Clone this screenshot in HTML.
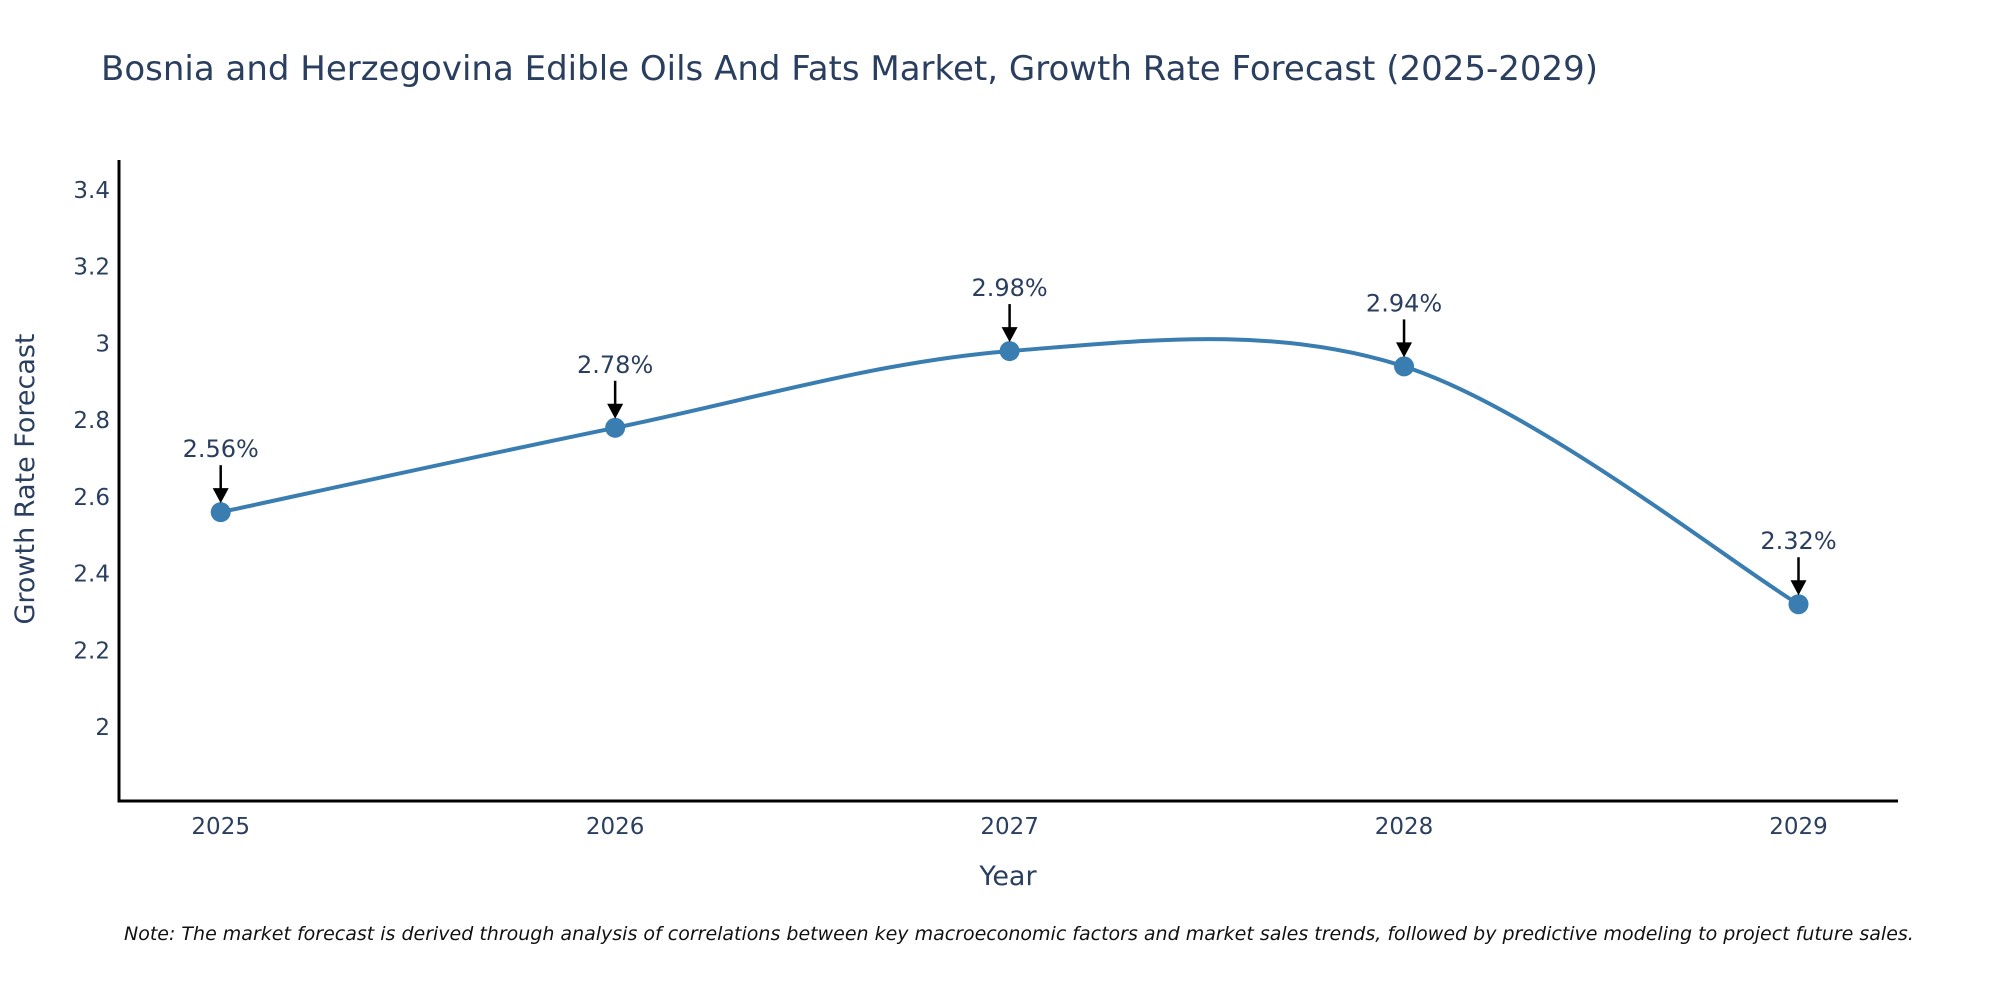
<!DOCTYPE html>
<html><head><meta charset="utf-8"><style>
body{margin:0;background:#fff;}
svg{display:block;font-family:"DejaVu Sans","Liberation Sans",sans-serif;}
</style></head><body>
<svg id="chart" width="2000" height="1000" viewBox="0 0 2000 1000">
<text x="101" y="80" font-size="34" fill="#2a3f5f">Bosnia and Herzegovina Edible Oils And Fats Market, Growth Rate Forecast (2025-2029)</text>
<g id="yticks"></g>
<g id="xticks"></g>
<line x1="119" y1="160" x2="119" y2="802" stroke="#000" stroke-width="3"/>
<line x1="117.5" y1="801" x2="1898" y2="801" stroke="#000" stroke-width="3"/>
<path id="line" fill="none" stroke="#3a7db0" stroke-width="4"/>
<g id="points"></g>
<g id="annots"></g>
<text x="1008" y="885" font-size="27" fill="#2a3f5f" text-anchor="middle">Year</text>
<text transform="translate(34,479) rotate(-90)" font-size="27" fill="#2a3f5f" text-anchor="middle">Growth Rate Forecast</text>
<text x="124" y="940" font-size="19" font-style="italic" fill="#111">Note: The market forecast is derived through analysis of correlations between key macroeconomic factors and market sales trends, followed by predictive modeling to project future sales.</text>
</svg>
<script>
const years = [2025, 2026, 2027, 2028, 2029];
const values = [2.56, 2.78, 2.98, 2.94, 2.32];
const labels = ["2.56%", "2.78%", "2.98%", "2.94%", "2.32%"];
const yTicks = [2, 2.2, 2.4, 2.6, 2.8, 3, 3.2, 3.4];
const yTickLabels = ["2", "2.2", "2.4", "2.6", "2.8", "3", "3.2", "3.4"];

const NS = "http://www.w3.org/2000/svg";
function xs(v){ return 220.7 + (v - 2025) * 394.45; }
function ys(v){ return 727 - (v - 2) * 383.6; }
function mk(tag, attrs, parent){
  const e = document.createElementNS(NS, tag);
  for (const k in attrs) e.setAttribute(k, attrs[k]);
  parent.appendChild(e);
  return e;
}
const yg = document.getElementById('yticks');
yTicks.forEach((t, i) => {
  const e = mk('text', {x: 110, y: ys(t) + 8, 'font-size': 23, fill: '#2a3f5f', 'text-anchor': 'end'}, yg);
  
  
  e.textContent = yTickLabels[i];
});
const xg = document.getElementById('xticks');
years.forEach(y => {
  const e = mk('text', {x: xs(y), y: 834, 'font-size': 23, fill: '#2a3f5f', 'text-anchor': 'middle'}, xg);
  
  
  e.textContent = String(y);
});
const pts = years.map((y, i) => [xs(y), ys(values[i])]);
let d = `M${pts[0][0]},${pts[0][1]}`;
const s = 1/6;
for (let i = 0; i < pts.length - 1; i++) {
  const p0 = pts[i-1] || pts[i], p1 = pts[i], p2 = pts[i+1], p3 = pts[i+2] || pts[i+1];
  const c1 = [p1[0] + (p2[0]-p0[0])*s, p1[1] + (p2[1]-p0[1])*s];
  const c2 = [p2[0] - (p3[0]-p1[0])*s, p2[1] - (p3[1]-p1[1])*s];
  d += ` C${c1[0]},${c1[1]} ${c2[0]},${c2[1]} ${p2[0]},${p2[1]}`;
}
document.getElementById('line').setAttribute('d', d);
const pg = document.getElementById('points');
const ag = document.getElementById('annots');
pts.forEach((p, i) => {
  const c = mk('circle', {cx: p[0], cy: p[1], r: 10, fill: '#3a7db0'}, pg);
  
  
  const l = mk('line', {x1: p[0], y1: p[1] - 47, x2: p[0], y2: p[1] - 22, stroke: '#000', 'stroke-width': 2.5}, ag);
  
  
  const h = mk('polygon', {points: `${p[0]-8},${p[1]-24} ${p[0]+8},${p[1]-24} ${p[0]},${p[1]-9}`, fill: '#000'}, ag);
  
  
  const t = mk('text', {x: p[0], y: p[1] - 55, 'font-size': 24, fill: '#2a3f5f', 'text-anchor': 'middle'}, ag);
  
  
  t.textContent = labels[i];
});
</script>
</body></html>
